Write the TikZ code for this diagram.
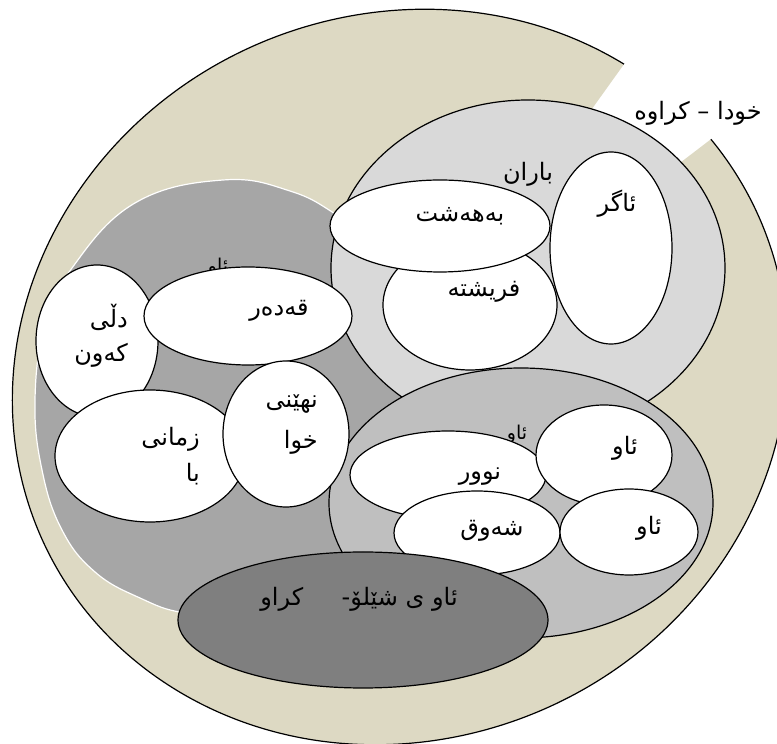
\documentclass[tikz,border=0pt]{standalone}
\usepackage{fontspec}
\newfontfamily\arfont[Script=Arabic]{DejaVu Sans}
\TeXXeTstate=1
\usetikzlibrary{shapes.geometric}
\definecolor{beige}{HTML}{DDD9C3}
\definecolor{lgrey}{HTML}{D9D9D9}
\definecolor{dgrey}{HTML}{A6A6A6}
\definecolor{mgrey}{HTML}{BFBFBF}
\definecolor{egrey}{HTML}{7F7F7F}
\begin{document}
\begin{tikzpicture}[x=1pt,y=1pt,
  blob/.style={ellipse, draw=black, line width=1.2pt, inner sep=0pt, outer sep=0pt},
  wblob/.style={blob, fill=white},
  txt/.style={font=\arfont\fontsize{24}{28}\selectfont, inner sep=0pt, anchor=base},
  txtr/.style={txt, anchor=base east},
  small/.style={font=\arfont\fontsize{19}{22}\selectfont, inner sep=0pt, anchor=base}]
\useasboundingbox (0,0) rectangle (777,744);
\clip (0,0) rectangle (777,744);
% outer pie (slightly tilted ellipse with a slice cut out)
\begin{scope}[shift={(400,367)}, rotate=25]
\coordinate (c) at (0,0);
\fill[beige] (c) -- (31.45:393pt and 362pt) arc[start angle=31.45, end angle=373.43, x radius=393pt, y radius=362pt] -- cycle;
\draw[line width=1.2pt] (31.45:393pt and 362pt) arc[start angle=31.45, end angle=373.43, x radius=393pt, y radius=362pt];
\end{scope}
% dark grey region
\draw[fill=dgrey, draw=white, line width=1.2pt] plot[smooth cycle, tension=0.7] coordinates {(223,564) (290,553) (340,527) (400,484) (430,414) (435,324) (405,234) (330,154) (250,128) (185,131) (140,146) (95,172) (62,214) (42,274) (35,344) (45,419) (72,476) (135,541)};
\node[small] (l-sky) at (218,471) {\beginR ئاو\endR};
% light grey region
\node[blob, fill=lgrey, minimum width=394pt, minimum height=336pt] (rain) at (528,476) {};
\node[txt] (l-rain) at (528,563) {\beginR باران\endR};
% mid grey region
\node[blob, fill=mgrey, minimum width=384pt, minimum height=270pt] (water) at (521,241) {};
\node[small] (l-water) at (517,304) {\beginR ئاو\endR};
% white shapes
\node[wblob, minimum width=174pt, minimum height=130pt] (angel) at (470,439) {};
\node[wblob, minimum width=220pt, minimum height=92pt] (heaven) at (440,518) {};
\node[wblob, minimum width=122pt, minimum height=192pt] (fire) at (611,496) {};
\node[wblob, minimum width=122pt, minimum height=152pt] (heart) at (97,403) {};
\node[wblob, minimum width=208pt, minimum height=98pt] (fate) at (248,428) {};
\node[wblob, minimum width=190pt, minimum height=132pt] (lang) at (150,288) {};
\node[wblob, minimum width=126pt, minimum height=146pt] (secret) at (286,310) {};
\node[wblob, minimum width=196pt, minimum height=88pt] (light) at (448,269) {};
\node[wblob, minimum width=136pt, minimum height=100pt] (w1) at (604,289) {};
\node[wblob, minimum width=166pt, minimum height=84pt] (shine) at (477,211) {};
\node[wblob, minimum width=138pt, minimum height=86pt] (w2) at (629,212) {};
\node[blob, fill=egrey, minimum width=370pt, minimum height=136pt] (dark) at (363,124) {};
% texts
\node[txt] (t-god) at (698,624) {\beginR خودا – کراوه\endR};
\node[txt] (t-heaven) at (460,522) {\beginR بەهەشت\endR};
\node[txt] (t-angel) at (484,447) {\beginR فریشته\endR};
\node[txt] (t-fire) at (617,532) {\beginR ئاگر\endR};
\node[txt] (t-fate) at (279,428) {\beginR قەدەر\endR};
\node[txtr] (t-heart1) at (128,416) {\beginR دڵی\endR};
\node[txtr] (t-heart2) at (128,382) {\beginR کەون\endR};
\node[txtr] (t-lang1) at (200,298) {\beginR زمانی\endR};
\node[txtr] (t-lang2) at (200,262) {\beginR با\endR};
\node[txtr] (t-secret1) at (318,336) {\beginR نهێنی\endR};
\node[txtr] (t-secret2) at (318,295) {\beginR خوا\endR};
\node[txt] (t-w1) at (625,289) {\beginR ئاو\endR};
\node[txt] (t-light) at (480,264) {\beginR نوور\endR};
\node[txt] (t-shine) at (492,208) {\beginR شەوق\endR};
\node[txt] (t-w2) at (649,209) {\beginR ئاو\endR};
\node[txt] (t-dark) at (359,138) {\beginR ئاو ی شێلۆ\mbox{-}\hspace{1.6em}کراو\endR};
\end{tikzpicture}
\end{document}
